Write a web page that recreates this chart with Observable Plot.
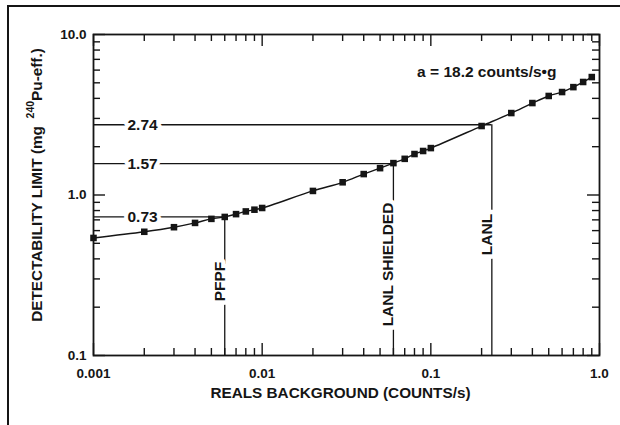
<!DOCTYPE html>
<html><head><meta charset="utf-8">
<script src="https://cdn.jsdelivr.net/npm/d3@7"></script>
<script src="https://cdn.jsdelivr.net/npm/@observablehq/plot@0.6"></script>
<style>
body{margin:0;background:#fff;overflow:hidden}
#wrap{position:relative;width:620px;height:425px}
#border{position:absolute;left:7px;top:5px;width:700px;height:600px;border-left:2.5px solid #151515;border-top:2.5px solid #151515;pointer-events:none}
svg{display:block}
</style></head><body><div id="wrap"><div id="border"></div></div>
<script>
// Data
const background = [0.001,0.002,0.003,0.004,0.005,0.006,0.007,0.008,0.009,0.01,0.02,0.03,0.04,0.05,0.06,0.07,0.08,0.09,0.1,0.2,0.3,0.4,0.5,0.6,0.7,0.8,0.9];
const limit = [0.54,0.59,0.63,0.67,0.71,0.73,0.76,0.79,0.81,0.83,1.06,1.20,1.35,1.47,1.58,1.68,1.80,1.88,1.96,2.69,3.24,3.74,4.14,4.38,4.70,5.06,5.43];
const refLabels = ["PFPF","LANL SHIELDED","LANL"];
const refBackground = [0.006,0.06,0.23];
const refLimit = [0.73,1.57,2.74];
const refLimitLabels = ["0.73","1.57","2.74"];
const xTickValues = [0.001,0.01,0.1,1];
const xTickLabels = ["0.001","0.01","0.1","1.0"];
const yTickValues = [0.1,1,10];
const yTickLabels = ["0.1","1.0","10.0"];
const xDomain = [0.001,1];
const yDomain = [0.1,10];
const title = "a = 18.2 counts/s\u2022g";
const xLabel = "REALS BACKGROUND (COUNTS/s)";

const minorOf = (majors) => majors.slice(0,-1).flatMap(m => [2,3,4,5,6,7,8,9].map(k => +(m*k).toPrecision(3)));
const xMinor = minorOf(xTickValues);
const yMinor = minorOf(yTickValues);
const pts = background.map((b,i) => ({b, v: limit[i]}));
const refs = refLabels.map((l,i) => i);

const font = "Liberation Sans, Arial, Helvetica, sans-serif";
const ink = "#151515";
const fsTick = 13.5, fsLab = 15.5, fsAxis = 15.3;
const labelDy = [-74, -91, -121];

const W = 620, H = 425, mL = 93, mR = 21, mT = 34, mB = 70;
const pw = W - mL - mR, ph = H - mT - mB;
// pixels per decade on each log axis, used to turn tick lengths (px) into log-scale factors
const dpx = pw / Math.log10(xDomain[1] / xDomain[0]);
const dpy = ph / Math.log10(yDomain[1] / yDomain[0]);
const fx = (len) => Math.pow(10, len / dpx);
const fy = (len) => Math.pow(10, len / dpy);
const tk = {stroke: ink, strokeWidth: 1.4};
const xTicks = (vals, len) => [
  Plot.ruleX(vals, {x: d => d, y1: yDomain[0], y2: yDomain[0] * fy(len), ...tk}),
  Plot.ruleX(vals, {x: d => d, y1: yDomain[1], y2: yDomain[1] / fy(len), ...tk})
];
const yTicks = (vals, len) => [
  Plot.ruleY(vals, {y: d => d, x1: xDomain[0], x2: xDomain[0] * fx(len), ...tk}),
  Plot.ruleY(vals, {y: d => d, x1: xDomain[1], x2: xDomain[1] / fx(len), ...tk})
];
const tickMarks = [...xTicks(xMinor, 7), ...xTicks(xTickValues, 12), ...yTicks(yMinor, 7), ...yTicks(yTickValues, 12)];

const chart = Plot.plot({
  width: W, height: H,
  marginLeft: mL, marginRight: mR, marginTop: mT, marginBottom: mB,
  style: {fontFamily: font, fontWeight: "bold", fontSize: fsTick+"px", background: "transparent", color: ink},
  x: {type: "log", domain: xDomain},
  y: {type: "log", domain: yDomain},
  marks: [
    Plot.axisX(xTickValues, {anchor:"bottom", tickSize:0, tickPadding:13, tickFormat:(d)=>xTickLabels[xTickValues.indexOf(d)], label:null, fontSize:fsTick, fontWeight:"bold", fill:ink}),
    Plot.axisY(yTickValues, {anchor:"left", tickSize:0, tickPadding:7, tickFormat:(d)=>yTickLabels[yTickValues.indexOf(d)], label:null, fontSize:fsTick, fontWeight:"bold", fill:ink}),
    ...tickMarks,
    Plot.ruleY(refs, {y: i => refLimit[i], x1: xDomain[0], x2: i => refBackground[i], stroke: ink, strokeWidth: 1.3}),
    Plot.ruleX(refs, {x: i => refBackground[i], y1: yDomain[0], y2: i => refLimit[i], stroke: ink, strokeWidth: 1.3}),
    Plot.line(pts, {x: "b", y: "v", curve: "catmull-rom", stroke: ink, strokeWidth: 1.4}),
    Plot.dot(pts, {x: "b", y: "v", symbol: "square", r: 3.7, fill: ink, stroke: null}),
    Plot.text(refs, {y: i => refLimit[i], text: i => refLimitLabels[i], frameAnchor: "left", textAnchor: "start", dx: 34, fontSize: fsLab, fontWeight: "bold", fill: ink, stroke: "white", strokeWidth: 8, paintOrder: "stroke"}),
    ...refs.map(j => Plot.text([j], {x: i => refBackground[i], text: i => refLabels[i], rotate: -90, frameAnchor: "bottom", dy: labelDy[j], fontSize: fsLab, fontWeight: "bold", fill: ink, stroke: "white", strokeWidth: 9, paintOrder: "stroke"})),
    Plot.text([title], {frameAnchor: "top-right", dx: -43, dy: 31, textAnchor: "end", fontSize: fsLab, fontWeight: "bold", fill: ink}),
    Plot.text([xLabel], {frameAnchor: "bottom", dx: -6, dy: 42, fontSize: fsAxis, fontWeight: "bold", fill: ink}),
    Plot.frame({stroke: ink, strokeWidth: 1.8, fill: "none"})
  ]
});
document.getElementById("wrap").prepend(chart);

// Y-axis label with superscript
const svg = d3.select(chart);
const yl = svg.append("text")
  .attr("transform", "translate(36,185) rotate(-90)")
  .attr("text-anchor", "middle")
  .attr("dominant-baseline", "central")
  .attr("font-family", font).attr("font-weight", "bold").attr("font-size", fsAxis+"px").attr("fill", ink);
yl.append("tspan").text("DETECTABILITY LIMIT (mg\u2002");
yl.append("tspan").attr("font-size", "10.5px").attr("dy", "-6").text("240");
yl.append("tspan").attr("dy", "6").text("Pu-eff.)");
</script></body></html>
